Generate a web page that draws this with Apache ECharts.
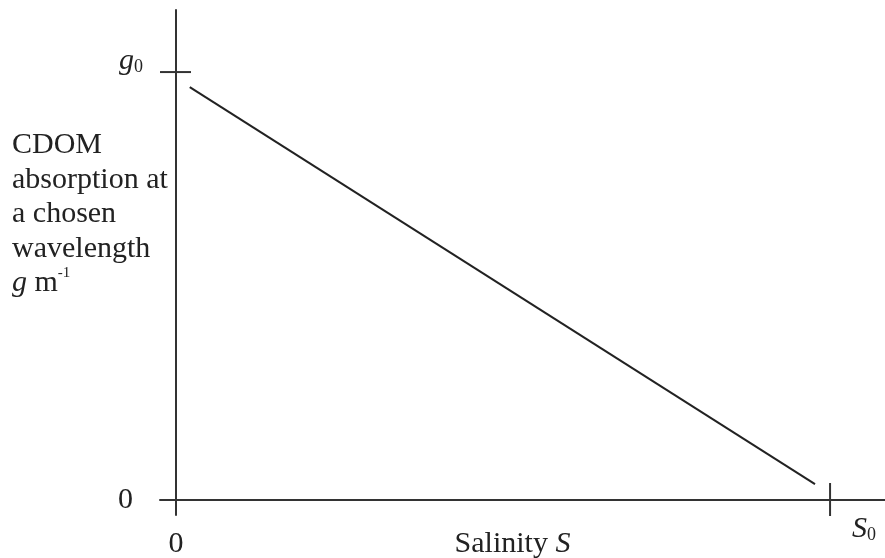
<!DOCTYPE html>
<html>
<head>
<meta charset="utf-8">
<script src="https://cdn.jsdelivr.net/npm/echarts@6/dist/echarts.min.js"></script>
<style>html,body{margin:0;padding:0;background:#fff}#c{width:885px;height:558px}</style>
</head>
<body>
<div id="c"></div>
<script>
// Data (normalised units: S0 = 1 on x, g0 = 1 on y)
const lineX = [0.021, 0.977];
const lineY = [0.965, 0.037];
const xRange = [-0.0245, 1.084];
const yRange = [-0.035, 1.145];
const xZeroLabel = [0];
const yZeroLabel = [0];
const xMarkTicks = [1];   // S0
const yMarkTicks = [1];   // g0
const yNameLines = ['CDOM', 'absorption at', 'a chosen', 'wavelength', '{gi|g} m{sup|-1}'];

const FONT = '"Liberation Serif", "Times New Roman", serif';
const INK = '#222';
const FS = 30;

const chart = echarts.init(document.getElementById('c'), null, {renderer: 'canvas'});
const option = {
  backgroundColor: '#fff',
  animation: false,
  title: {
    text: yNameLines.join('\n'),
    left: 12, top: 128, padding: 0,
    textStyle: {
      fontFamily: FONT, fontSize: FS, fontWeight: 'normal', color: INK, lineHeight: 34.5,
      rich: {
        gi: {fontFamily: FONT, fontSize: FS, fontStyle: 'italic', color: INK, lineHeight: 34.5},
        sup: {fontFamily: FONT, fontSize: 15, color: INK, lineHeight: 29, verticalAlign: 'top'}
      }
    }
  },
  grid: {left: 160, right: 0, top: 10, bottom: 43, containLabel: false, outerBoundsMode: 'none'},
  xAxis: {
    type: 'value', min: xRange[0], max: xRange[1],
    axisLine: {show: true, onZero: true, lineStyle: {color: '#333', width: 2}},
    axisTick: {show: false},
    splitLine: {show: false},
    axisLabel: {customValues: xZeroLabel, formatter: () => '0', margin: 15,
      fontFamily: FONT, fontSize: FS, lineHeight: 29, color: INK},
    name: 'Salinity {i|S}', nameLocation: 'middle', nameGap: 15, nameMoveOverlap: false,
    nameTextStyle: {fontFamily: FONT, fontSize: FS, lineHeight: 29, color: INK, padding: [0, 20, 0, 0],
      rich: {i: {fontFamily: FONT, fontSize: FS, fontStyle: 'italic', color: INK, lineHeight: 29}}}
  },
  yAxis: {
    type: 'value', min: yRange[0], max: yRange[1],
    axisLine: {show: true, onZero: true, lineStyle: {color: '#333', width: 2}},
    axisTick: {show: false},
    splitLine: {show: false},
    axisLabel: {customValues: yZeroLabel, formatter: () => '0', margin: 27,
      fontFamily: FONT, fontSize: FS, lineHeight: 29, color: INK}
  },
  series: [{
    type: 'line', symbol: 'none',
    data: lineX.map((x, i) => [x, lineY[i]]),
    lineStyle: {color: INK, width: 2}
  }]
};
chart.setOption(option);

const px = (x, y) => chart.convertToPixel({gridIndex: 0}, [x, y]);
const g = [];
const half = 16;
yMarkTicks.forEach(v => {
  const p = px(0, v);
  g.push({type: 'line', shape: {x1: p[0] - half, y1: p[1], x2: p[0] + 15, y2: p[1]},
    style: {stroke: '#333', lineWidth: 2}});
  g.push({type: 'text', x: p[0] - 33, y: p[1] - 25,
    style: {text: '{g|g}{s|0}', align: 'right', verticalAlign: 'top',
      rich: {
        g: {fontFamily: FONT, fontSize: FS, fontStyle: 'italic', fill: INK, lineHeight: 29},
        s: {fontFamily: FONT, fontSize: 18, fill: INK, lineHeight: 16, verticalAlign: 'bottom'}
      }}});
});
xMarkTicks.forEach(v => {
  const p = px(v, 0);
  g.push({type: 'line', shape: {x1: p[0], y1: p[1] - 17, x2: p[0], y2: p[1] + half},
    style: {stroke: '#333', lineWidth: 2}});
  g.push({type: 'text', x: p[0] + 22, y: p[1] + 15,
    style: {text: '{s|S}{b|0}', align: 'left', verticalAlign: 'top',
      rich: {
        s: {fontFamily: FONT, fontSize: FS, fontStyle: 'italic', fill: INK, lineHeight: 29},
        b: {fontFamily: FONT, fontSize: 18, fill: INK, lineHeight: 16, verticalAlign: 'bottom'}
      }}});
});
chart.setOption({graphic: g});
</script>
</body>
</html>
